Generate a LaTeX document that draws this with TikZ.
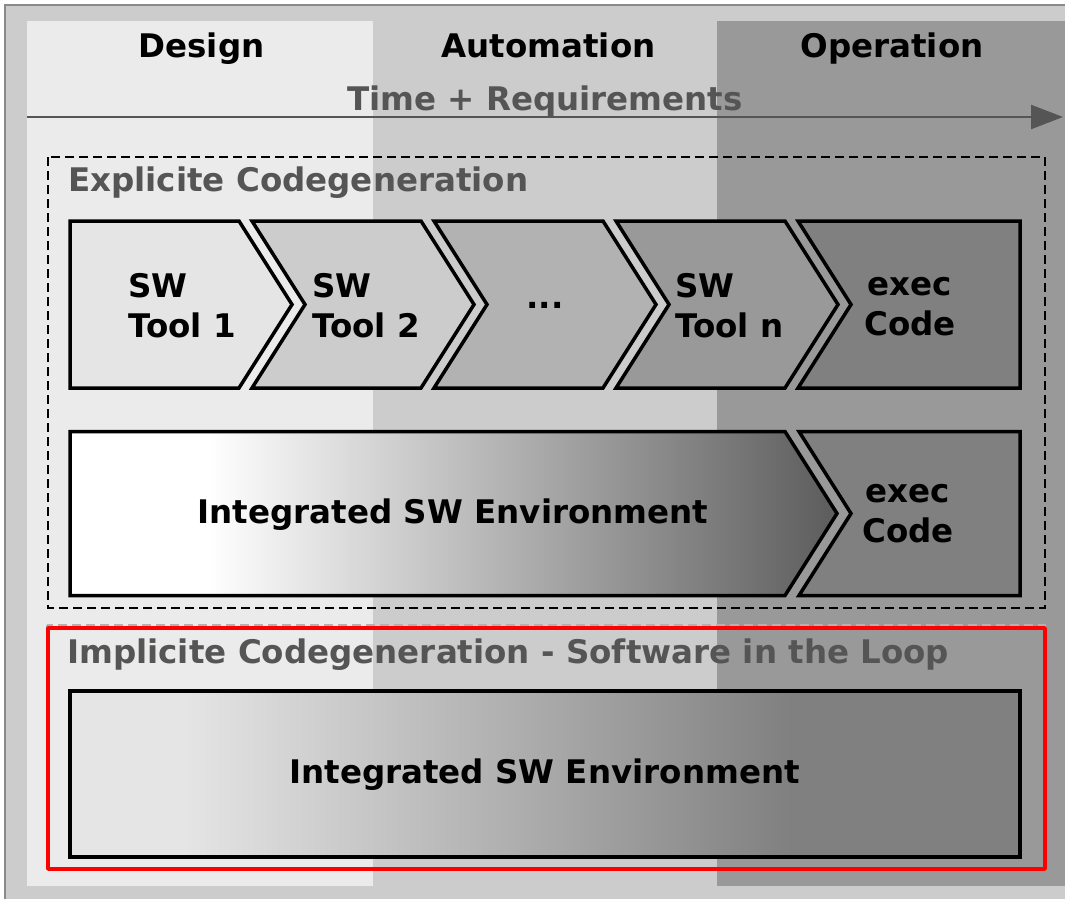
\documentclass[tikz,border=0pt]{standalone}
\usepackage{fontspec}
\setmainfont{DejaVu Sans}
\usetikzlibrary{arrows.meta}

\definecolor{framegray}{HTML}{8A8A8A}
\definecolor{bgmid}{HTML}{CCCCCC}
\definecolor{phdesign}{HTML}{EBEBEB}
\definecolor{phoper}{HTML}{999999}
\definecolor{textgray}{HTML}{555555}
\definecolor{stA}{HTML}{E5E5E5}
\definecolor{stB}{HTML}{CCCCCC}
\definecolor{stC}{HTML}{B2B2B2}
\definecolor{stD}{HTML}{999999}
\definecolor{stE}{HTML}{808080}
\definecolor{envdark}{HTML}{5C5C5C}

% fades for the two integrated environments (inner 25bp..75bp spans the shape)
\pgfdeclarehorizontalshading{envfade}{100bp}{color(0bp)=(white); color(34bp)=(white); color(75bp)=(envdark); color(100bp)=(envdark)}
\pgfdeclarehorizontalshading{simfade}{100bp}{color(0bp)=(stA); color(31bp)=(stA); color(63bp)=(stE); color(100bp)=(stE)}

\begin{document}
\begin{tikzpicture}[x=1pt,y=-1pt,
  lbl/.style={inner sep=0pt, font=\bfseries\fontsize{32.5}{40}\selectfont},
  hdr/.style={lbl, text=black, anchor=base},
  grp/.style={lbl, text=textgray, anchor=base west},
  tool/.style={lbl, align=left, anchor=base west},
  codelbl/.style={lbl, align=center, anchor=base},
  stage/.style={draw=black, line width=3.5pt, line join=miter},
  explicitbox/.style={draw=black, line width=2.4pt, dash pattern=on 9pt off 5pt},
  timeline/.style={draw=textgray, line width=2.4pt, -{Triangle[length=32pt,width=24pt]}}
]
\useasboundingbox (0,0) rectangle (1065,899);

% frame and the three phase columns
\filldraw[fill=bgmid, draw=framegray, line width=1.5pt] (5,5) rectangle (1075,909);
\fill[phdesign] (27,21) rectangle (373,886);
\fill[phoper] (717,21) rectangle (1075,886);

% phase headings and time axis
\node[hdr] (design) at (201.5,57) {Design};
\node[hdr] (automation) at (548.5,57) {Automation};
\node[hdr] (operation) at (892,57) {Operation};
\node[hdr, text=textgray] (timereq) at (545,110) {Time + Requirements};
\coordinate (tstart) at (27,117);
\coordinate (tend) at (1063,117);
\draw[timeline] (tstart) -- (tend);

% explicit code generation group
\draw[explicitbox] (48,157) rectangle (1045,608);
\node[grp] (explicit) at (68,191) {Explicite Codegeneration};

% tool chain
\draw[stage, fill=stA] (70,221) -- (239,221) -- (292,304.5) -- (239,388) -- (70,388) -- cycle;
\foreach \x/\c in {252/stB, 434/stC, 616/stD}
  \draw[stage, fill=\c] (\x,221) -- ++(169,0) -- ++(53,83.5) -- ++(-53,83.5) -- ++(-169,0) -- ++(53,-83.5) -- cycle;
\draw[stage, fill=stE] (798,221) -- (1020,221) -- (1020,388) -- (798,388) -- (851,304.5) -- cycle;

% multi-line labels: the base anchor sits on the last line
\node[tool] (tool1) at (128,337) {SW\\Tool 1};
\node[tool] (tool2) at (312,337) {SW\\Tool 2};
\node[hdr] (dots) at (545,308) {...};
\node[tool] (tooln) at (675,337) {SW\\Tool n};
\node[codelbl] (exec1) at (910,335) {exec\\Code};

% integrated environment followed by executable code
\draw[stage, shade, shading=envfade] (70,431.5) -- (785,431.5) -- (837,513.5) -- (785,595.5) -- (70,595.5) -- cycle;
\draw[stage, fill=stE] (799,431.5) -- (1020,431.5) -- (1020,595.5) -- (799,595.5) -- (851,513.5) -- cycle;
\node[hdr] (env1) at (453,523) {Integrated SW Environment};
\node[codelbl] (exec2) at (908,542) {exec\\Code};

% implicit code generation group
\draw[black!30, line width=1.5pt, dash pattern=on 9pt off 5pt] (47,625) rectangle (1045,869);
\node[grp] (implicit) at (67,663) {Implicite Codegeneration - Software in the Loop};
\draw[stage, shade, shading=simfade] (70,691) rectangle (1020,857);
\node[hdr] (env2) at (544.5,783) {Integrated SW Environment};
\draw[red, line width=3.5pt, line join=round] (48,628) rectangle (1045,869);
\end{tikzpicture}
\end{document}
